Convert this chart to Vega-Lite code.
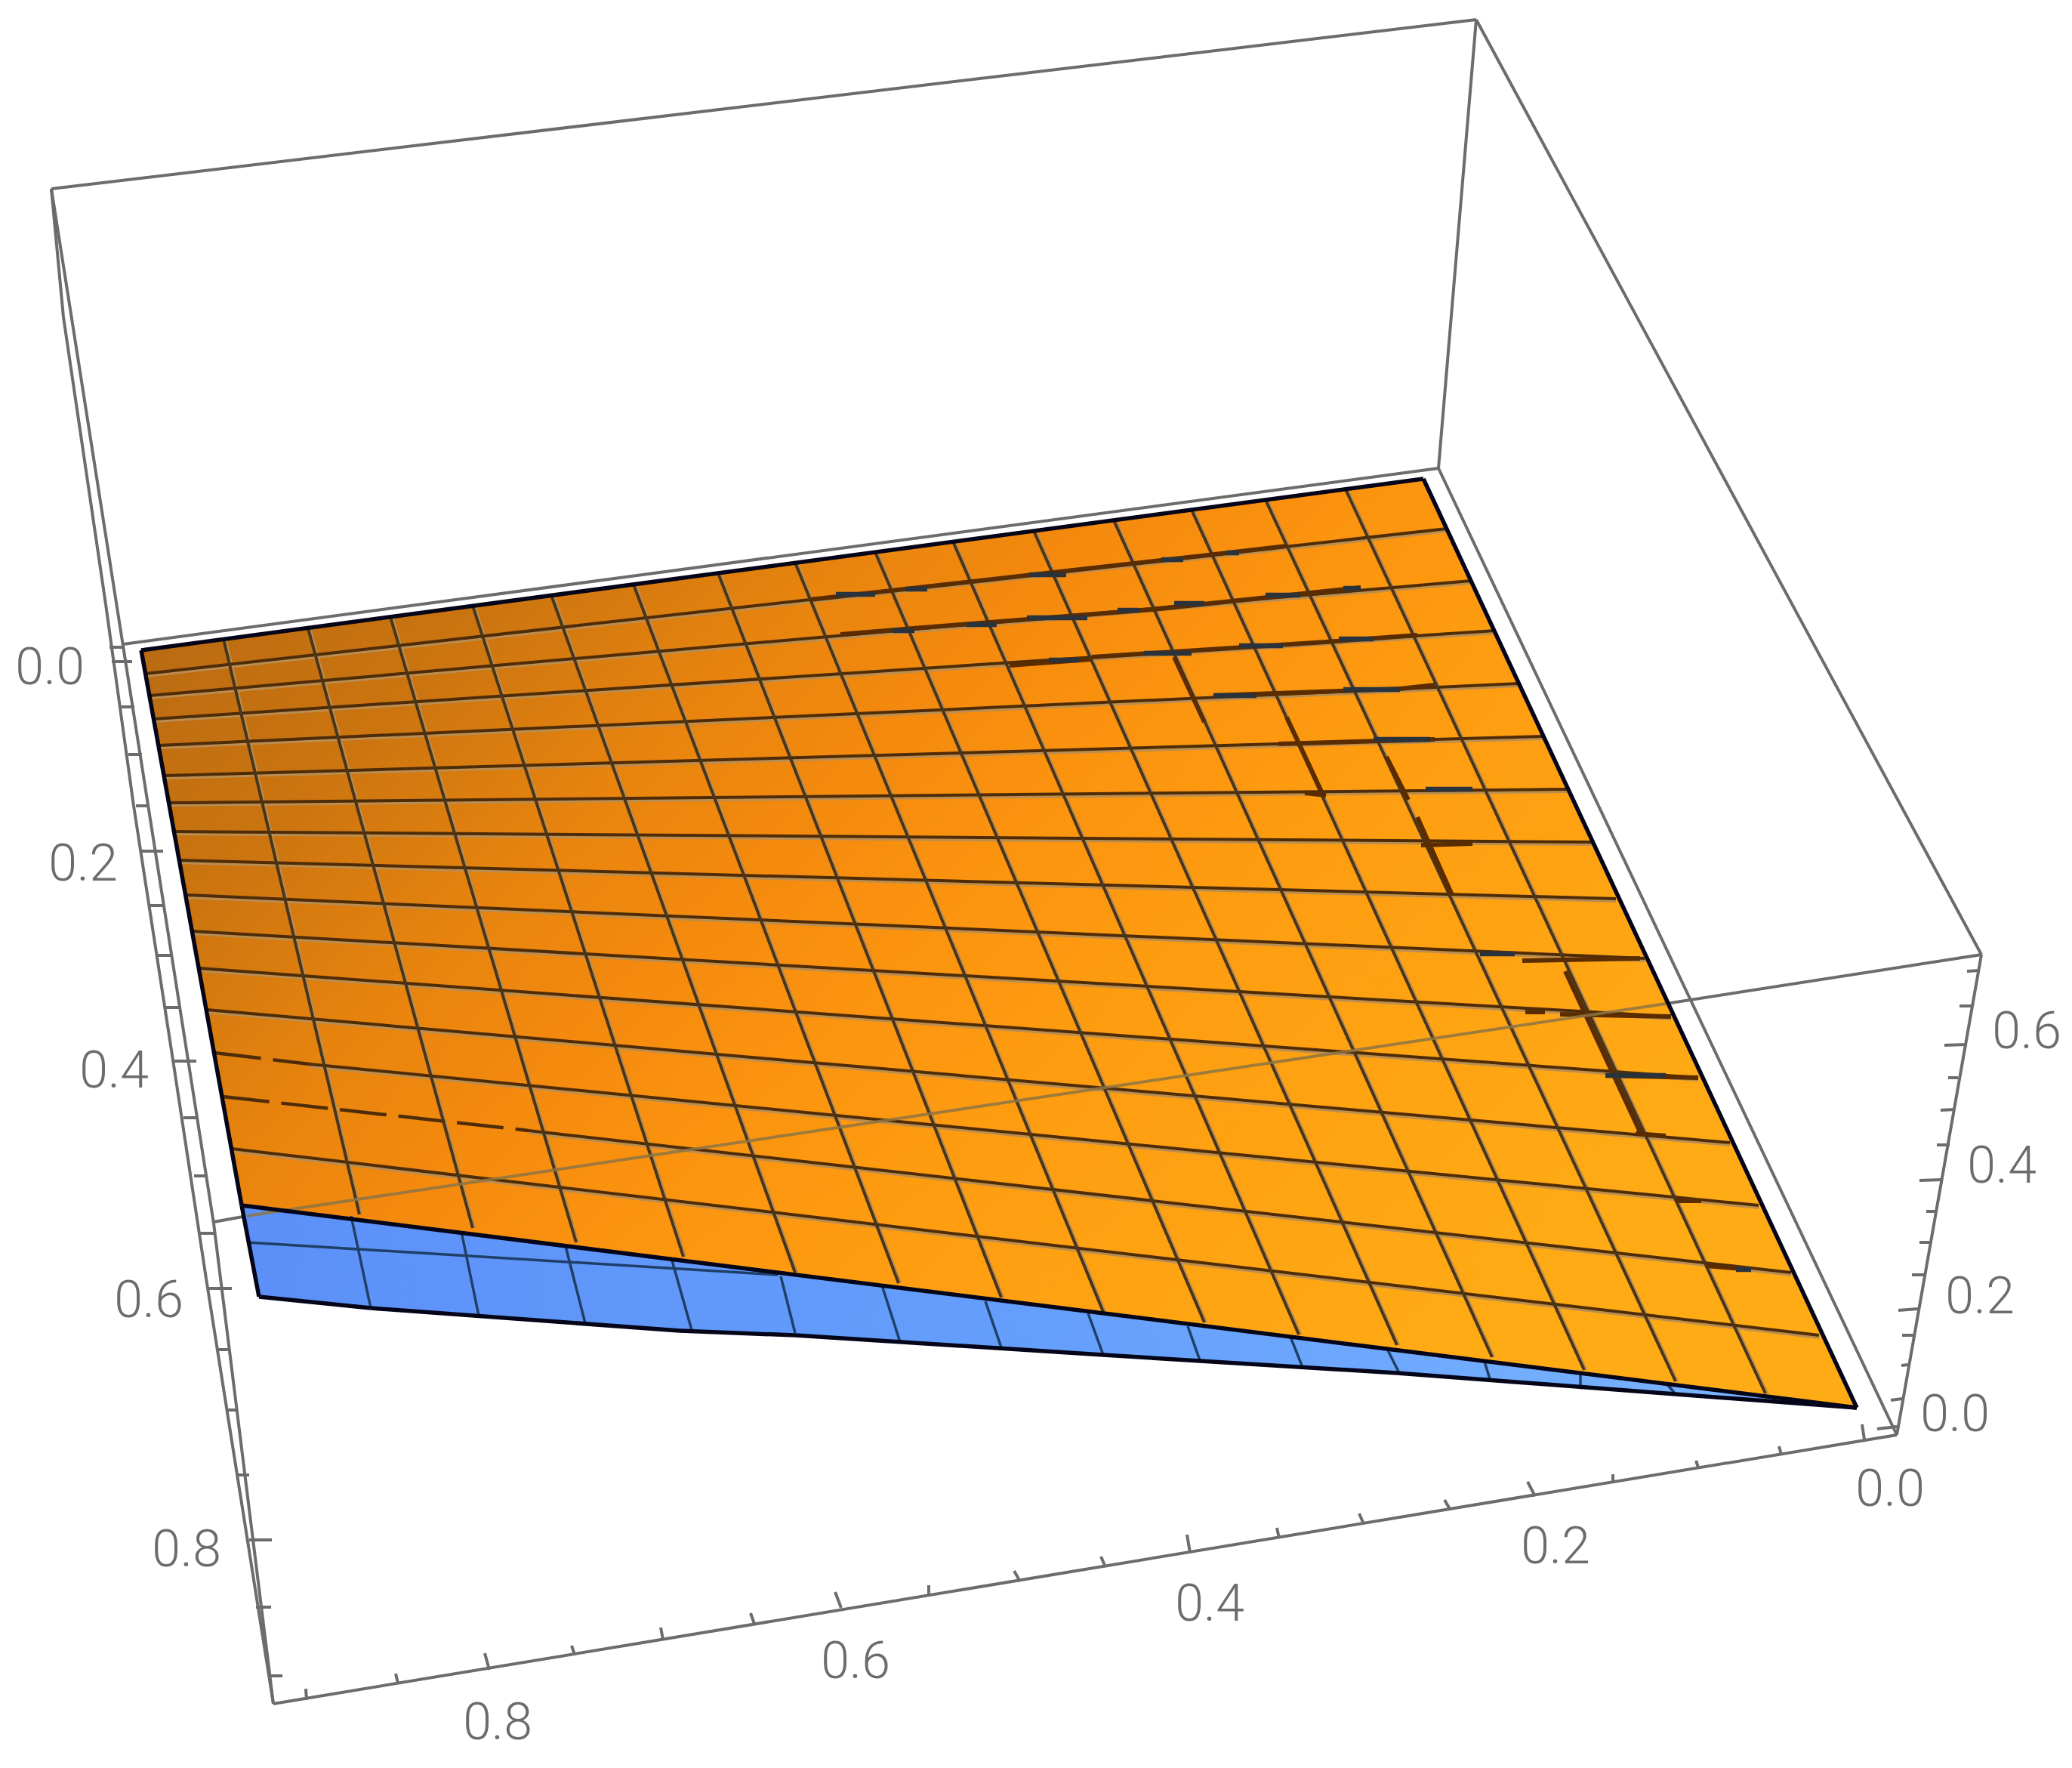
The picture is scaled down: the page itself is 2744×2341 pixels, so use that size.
{"$schema":"https://vega.github.io/schema/vega-lite/v6.json","autosize":{"type":"fit","contains":"padding"},"width":2744,"height":2341,"padding":0,"background":"white","view":{"stroke":null},
"datasets":{
"poly":[
{"part":"blue","i":0,"sx":320,"sy":1596},{"part":"blue","i":1,"sx":2459,"sy":1864},{"part":"blue","i":2,"sx":2219,"sy":1846},{"part":"blue","i":3,"sx":1850,"sy":1818},{"part":"blue","i":4,"sx":1461,"sy":1794},{"part":"blue","i":5,"sx":1053,"sy":1768},{"part":"blue","i":6,"sx":900,"sy":1762},{"part":"blue","i":7,"sx":491,"sy":1732},{"part":"blue","i":8,"sx":343,"sy":1717},{"part":"blue","i":9,"sx":320,"sy":1596},
{"part":"orange","i":0,"sx":187,"sy":861},{"part":"orange","i":1,"sx":1885,"sy":634},{"part":"orange","i":2,"sx":2459,"sy":1864},{"part":"orange","i":3,"sx":320,"sy":1596},{"part":"orange","i":4,"sx":187,"sy":861}],
"back":[
{"sx":68,"sy":250,"ex":1955,"ey":26},{"sx":1955,"sy":26,"ex":2624,"ey":1264},{"sx":1955,"sy":26,"ex":1905,"ey":620},{"sx":163,"sy":853,"ex":1905,"ey":620},{"sx":1905,"sy":620,"ex":2512,"ey":1900},{"sx":2624,"sy":1264,"ex":2512,"ey":1900},{"sx":2512,"sy":1900,"ex":362,"ey":2256},
{"sx":68,"sy":250,"ex":84,"ey":420},{"sx":84,"sy":420,"ex":140,"ey":800},{"sx":140,"sy":800,"ex":177,"ey":1067},{"sx":177,"sy":1067,"ex":230,"ey":1410},{"sx":230,"sy":1410,"ex":273,"ey":1693},{"sx":273,"sy":1693,"ex":362,"ey":2256},
{"sx":68,"sy":250,"ex":283,"ey":1620},{"sx":283,"sy":1620,"ex":362,"ey":2256},{"sx":2624,"sy":1264,"ex":2206,"ey":1329},{"sx":327,"sy":1610,"ex":283,"ey":1618},
{"sx":145,"sy":857,"ex":163,"ey":857},{"sx":148,"sy":876,"ex":175,"ey":876},{"sx":158,"sy":936,"ex":178,"ey":936},{"sx":170,"sy":999,"ex":188,"ey":999},{"sx":180,"sy":1067,"ex":197,"ey":1067},{"sx":187,"sy":1127,"ex":216,"ey":1127},{"sx":197,"sy":1199,"ex":216,"ey":1199},{"sx":207,"sy":1265,"ex":226,"ey":1265},{"sx":218,"sy":1334,"ex":237,"ey":1334},{"sx":230,"sy":1405,"ex":260,"ey":1405},{"sx":243,"sy":1480,"ex":260,"ey":1480},{"sx":257,"sy":1557,"ex":273,"ey":1557},{"sx":265,"sy":1633,"ex":283,"ey":1633},{"sx":276,"sy":1706,"ex":307,"ey":1706},{"sx":287,"sy":1787,"ex":304,"ey":1787},{"sx":300,"sy":1867,"ex":314,"ey":1867},{"sx":314,"sy":1953,"ex":330,"ey":1953},{"sx":330,"sy":2039,"ex":360,"ey":2039},{"sx":339,"sy":2128,"ex":359,"ey":2128},{"sx":356,"sy":2219,"ex":374,"ey":2219},
{"sx":2466,"sy":1886,"ex":2469,"ey":1906},{"sx":2356,"sy":1915,"ex":2359,"ey":1926},{"sx":2246,"sy":1934,"ex":2249,"ey":1943},{"sx":2136,"sy":1952,"ex":2136,"ey":1963},{"sx":2023,"sy":1962,"ex":2033,"ey":1981},{"sx":1913,"sy":1986,"ex":1920,"ey":1998},{"sx":1800,"sy":2004,"ex":1806,"ey":2018},{"sx":1691,"sy":2023,"ex":1694,"ey":2037},{"sx":1572,"sy":2032,"ex":1576,"ey":2056},{"sx":1458,"sy":2061,"ex":1464,"ey":2075},{"sx":1343,"sy":2080,"ex":1351,"ey":2094},{"sx":1230,"sy":2099,"ex":1230,"ey":2114},{"sx":1106,"sy":2108,"ex":1114,"ey":2129},{"sx":994,"sy":2136,"ex":999,"ey":2150},{"sx":875,"sy":2155,"ex":878,"ey":2171},{"sx":757,"sy":2179,"ex":761,"ey":2191},{"sx":642,"sy":2189,"ex":648,"ey":2211},{"sx":524,"sy":2216,"ex":527,"ey":2229},{"sx":405,"sy":2236,"ex":406,"ey":2251},
{"sx":2486,"sy":1892,"ex":2512,"ey":1889},{"sx":2504,"sy":1854,"ex":2519,"ey":1852},{"sx":2518,"sy":1808,"ex":2527,"ey":1807},{"sx":2519,"sy":1768,"ex":2534,"ey":1768},{"sx":2514,"sy":1735,"ex":2540,"ey":1733},{"sx":2532,"sy":1688,"ex":2549,"ey":1688},{"sx":2542,"sy":1645,"ex":2555,"ey":1645},{"sx":2551,"sy":1604,"ex":2564,"ey":1604},{"sx":2542,"sy":1563,"ex":2572,"ey":1562},{"sx":2565,"sy":1516,"ex":2582,"ey":1516},{"sx":2570,"sy":1470,"ex":2589,"ey":1469},{"sx":2580,"sy":1427,"ex":2593,"ey":1427},{"sx":2575,"sy":1384,"ex":2605,"ey":1383},{"sx":2595,"sy":1332,"ex":2613,"ey":1332},{"sx":2605,"sy":1286,"ex":2622,"ey":1285}],
"rows":[
{"sx":193,"sy":892,"ex":1916,"ey":700},{"sx":198,"sy":921,"ex":1948,"ey":769},{"sx":204,"sy":952,"ex":1980,"ey":835},{"sx":210,"sy":987,"ex":2012,"ey":905},{"sx":217,"sy":1027,"ex":2045,"ey":975},{"sx":224,"sy":1063,"ex":2077,"ey":1045},{"sx":231,"sy":1101,"ex":2110,"ey":1115},{"sx":238,"sy":1139,"ex":2140,"ey":1190},{"sx":246,"sy":1185,"ex":2178,"ey":1269},{"sx":255,"sy":1233,"ex":2213,"ey":1346},{"sx":264,"sy":1282,"ex":2249,"ey":1427},{"sx":274,"sy":1337,"ex":2291,"ey":1513},{"sx":410,"sy":1409,"ex":2329,"ey":1596},{"sx":700,"sy":1497,"ex":2372,"ey":1685},{"sx":307,"sy":1521,"ex":2409,"ey":1768}],
"dashed":[{"sx":284,"sy":1394,"ex":410,"ey":1409},{"sx":295,"sy":1452,"ex":700,"ey":1497}],
"cols":[
{"sx":296,"sy":846,"ex":476,"ey":1608},{"sx":408,"sy":832,"ex":626,"ey":1626},{"sx":517,"sy":817,"ex":763,"ey":1645},{"sx":626,"sy":802,"ex":905,"ey":1664},{"sx":730,"sy":788,"ex":1053,"ey":1685},{"sx":839,"sy":774,"ex":1190,"ey":1699},{"sx":951,"sy":759,"ex":1326,"ey":1718},{"sx":1053,"sy":745,"ex":1461,"ey":1737},{"sx":1159,"sy":731,"ex":1595,"ey":1751},{"sx":1262,"sy":717,"ex":1720,"ey":1767},{"sx":1369,"sy":703,"ex":1850,"ey":1781},{"sx":1475,"sy":689,"ex":1976,"ey":1797},{"sx":1578,"sy":675,"ex":2098,"ey":1814},{"sx":1676,"sy":662,"ex":2219,"ey":1829},{"sx":1782,"sy":648,"ex":2338,"ey":1845}],
"heavy":[
{"sx":1073,"sy":794,"ex":1600,"ey":735},{"sx":1600,"sy":735,"ex":1704,"ey":723},{"sx":1113,"sy":840,"ex":1210,"ey":832},{"sx":1210,"sy":832,"ex":1527,"ey":807},{"sx":1527,"sy":807,"ex":1802,"ey":778},{"sx":1337,"sy":881,"ex":1444,"ey":873},{"sx":1446,"sy":870,"ex":1756,"ey":850},{"sx":1756,"sy":850,"ex":1877,"ey":841},{"sx":1607,"sy":921,"ex":1854,"ey":912},{"sx":1854,"sy":912,"ex":1900,"ey":907},{"sx":1693,"sy":985,"ex":1900,"ey":979},{"sx":1728,"sy":1050,"ex":1756,"ey":1053},{"sx":1888,"sy":1045,"ex":1950,"ey":1045},{"sx":1882,"sy":1119,"ex":1950,"ey":1117},{"sx":1960,"sy":1263,"ex":2006,"ey":1263},{"sx":2016,"sy":1272,"ex":2172,"ey":1269},{"sx":2020,"sy":1340,"ex":2046,"ey":1340},{"sx":2066,"sy":1343,"ex":2213,"ey":1346},{"sx":2126,"sy":1424,"ex":2249,"ey":1427},{"sx":2166,"sy":1501,"ex":2206,"ey":1504},{"sx":2219,"sy":1590,"ex":2253,"ey":1590},{"sx":2259,"sy":1676,"ex":2319,"ey":1681},
{"sx":1555,"sy":870,"ex":1595,"ey":956},{"sx":1704,"sy":950,"ex":1750,"ey":1048},{"sx":1836,"sy":1002,"ex":1865,"ey":1059},{"sx":1877,"sy":1082,"ex":1923,"ey":1185},{"sx":2073,"sy":1286,"ex":2173,"ey":1501}],
"slate":[
{"sx":1107,"sy":787,"ex":1159,"ey":787},{"sx":1199,"sy":780,"ex":1228,"ey":780},{"sx":1363,"sy":761,"ex":1412,"ey":761},{"sx":1538,"sy":741,"ex":1567,"ey":741},{"sx":1624,"sy":732,"ex":1641,"ey":732},
{"sx":1182,"sy":835,"ex":1211,"ey":835},{"sx":1280,"sy":827,"ex":1320,"ey":827},{"sx":1360,"sy":818,"ex":1440,"ey":818},{"sx":1480,"sy":808,"ex":1509,"ey":808},{"sx":1555,"sy":799,"ex":1595,"ey":799},{"sx":1676,"sy":788,"ex":1722,"ey":788},{"sx":1779,"sy":779,"ex":1802,"ey":779},
{"sx":1389,"sy":874,"ex":1429,"ey":874},{"sx":1515,"sy":865,"ex":1578,"ey":865},{"sx":1641,"sy":855,"ex":1699,"ey":855},{"sx":1773,"sy":846,"ex":1819,"ey":846},
{"sx":1607,"sy":921,"ex":1664,"ey":921},{"sx":1779,"sy":913,"ex":1854,"ey":913},{"sx":1819,"sy":979,"ex":1894,"ey":979},{"sx":1888,"sy":1045,"ex":1950,"ey":1045},{"sx":1960,"sy":1263,"ex":2006,"ey":1263},{"sx":2126,"sy":1424,"ex":2206,"ey":1424},{"sx":2299,"sy":1681,"ex":2319,"ey":1681}],
"bluegrid":[
{"sx":327,"sy":1645,"ex":1030,"ey":1688},{"sx":465,"sy":1610,"ex":491,"ey":1732},{"sx":611,"sy":1631,"ex":634,"ey":1742},{"sx":749,"sy":1650,"ex":775,"ey":1752},{"sx":890,"sy":1669,"ex":916,"ey":1761},{"sx":1034,"sy":1690,"ex":1053,"ey":1765},{"sx":1168,"sy":1702,"ex":1192,"ey":1777},{"sx":1305,"sy":1723,"ex":1327,"ey":1787},{"sx":1441,"sy":1739,"ex":1461,"ey":1794},{"sx":1573,"sy":1756,"ex":1590,"ey":1804},{"sx":1709,"sy":1770,"ex":1724,"ey":1808},{"sx":1836,"sy":1784,"ex":1853,"ey":1818},{"sx":1966,"sy":1803,"ex":1974,"ey":1829},{"sx":2093,"sy":1817,"ex":2093,"ey":1836},{"sx":2206,"sy":1831,"ex":2219,"ey":1846}],
"edges":[
{"sx":187,"sy":861,"ex":1885,"ey":634},{"sx":187,"sy":861,"ex":320,"ey":1596},{"sx":1885,"sy":634,"ex":2459,"ey":1864},{"sx":320,"sy":1596,"ex":343,"ey":1717},{"sx":320,"sy":1596,"ex":2459,"ey":1864},{"sx":343,"sy":1717,"ex":491,"ey":1732},{"sx":491,"sy":1732,"ex":900,"ey":1762},{"sx":900,"sy":1762,"ex":1053,"ey":1768},{"sx":1053,"sy":1768,"ex":1461,"ey":1794},{"sx":1461,"sy":1794,"ex":1850,"ey":1818},{"sx":1850,"sy":1818,"ex":2219,"ey":1846},{"sx":2219,"sy":1846,"ex":2459,"ey":1864}],
"front":[{"sx":2206,"sy":1329,"ex":327,"ey":1610}],
"labels":[
{"t":"0.0","sx":66,"sy":886},{"t":"0.2","sx":110,"sy":1146},{"t":"0.4","sx":151,"sy":1420},{"t":"0.6","sx":197,"sy":1724},{"t":"0.8","sx":247,"sy":2054},
{"t":"0.0","sx":2503,"sy":1974},{"t":"0.2","sx":2060,"sy":2050},{"t":"0.4","sx":1602,"sy":2126},{"t":"0.6","sx":1133,"sy":2202},{"t":"0.8","sx":659,"sy":2283},
{"t":"0.0","sx":2589,"sy":1875},{"t":"0.2","sx":2622,"sy":1719},{"t":"0.4","sx":2651,"sy":1546},{"t":"0.6","sx":2684,"sy":1368}]
},
"encoding":{
"x":{"field":"sx","type":"quantitative","scale":{"domain":[0,2744],"nice":false,"zero":false},"axis":null},
"y":{"field":"sy","type":"quantitative","scale":{"domain":[2341,0],"nice":false,"zero":false},"axis":null}
},
"layer":[
{"data":{"name":"back"},"mark":{"type":"rule","stroke":"#6c6c6c","strokeWidth":4},"encoding":{"x2":{"field":"ex"},"y2":{"field":"ey"}}},
{"data":{"name":"poly"},"transform":[{"filter":"datum.part==='blue'"}],"mark":{"type":"line","interpolate":"linear","strokeWidth":0,"fill":{"gradient":"linear","x1":0,"y1":0,"x2":1,"y2":0,"stops":[{"offset":0,"color":"#5C90F8"},{"offset":0.5,"color":"#659FFC"},{"offset":1,"color":"#7AB6FF"}]}},"encoding":{"order":{"field":"i"}}},
{"data":{"name":"poly"},"transform":[{"filter":"datum.part==='orange'"}],"mark":{"type":"line","interpolate":"linear","strokeWidth":0,"fill":{"gradient":"linear","x1":0,"y1":0,"x2":1,"y2":0.55,"stops":[{"offset":0.05,"color":"#B66912"},{"offset":0.22,"color":"#CC7510"},{"offset":0.35,"color":"#E8840E"},{"offset":0.45,"color":"#F48A0E"},{"offset":0.55,"color":"#FB930F"},{"offset":0.67,"color":"#FE9C10"},{"offset":1,"color":"#FFAB15"}]}},"encoding":{"order":{"field":"i"}}},
{"data":{"name":"rows"},"mark":{"type":"rule","stroke":"#B88E55","strokeWidth":3,"yOffset":3.5,"y2Offset":3.5},"encoding":{"x2":{"field":"ex"},"y2":{"field":"ey"}}},
{"data":{"name":"cols"},"mark":{"type":"rule","stroke":"#B88E55","strokeWidth":2.5,"xOffset":3,"x2Offset":3},"encoding":{"x2":{"field":"ex"},"y2":{"field":"ey"}}},
{"data":{"name":"rows"},"mark":{"type":"rule","stroke":"#4F2C08","strokeWidth":4},"encoding":{"x2":{"field":"ex"},"y2":{"field":"ey"}}},
{"data":{"name":"dashed"},"mark":{"type":"rule","stroke":"#4F2C08","strokeWidth":4.5,"strokeDash":[62,16]},"encoding":{"x2":{"field":"ex"},"y2":{"field":"ey"}}},
{"data":{"name":"cols"},"mark":{"type":"rule","stroke":"#4A3518","strokeWidth":4},"encoding":{"x2":{"field":"ex"},"y2":{"field":"ey"}}},
{"data":{"name":"heavy"},"mark":{"type":"rule","stroke":"#5A2C00","strokeWidth":6},"encoding":{"x2":{"field":"ex"},"y2":{"field":"ey"}}},
{"data":{"name":"slate"},"mark":{"type":"rule","stroke":"#2A333C","strokeWidth":6.5},"encoding":{"x2":{"field":"ex"},"y2":{"field":"ey"}}},
{"data":{"name":"bluegrid"},"mark":{"type":"rule","stroke":"#1F3F68","strokeWidth":3.5},"encoding":{"x2":{"field":"ex"},"y2":{"field":"ey"}}},
{"data":{"name":"front"},"mark":{"type":"rule","stroke":"#8E7442","strokeWidth":4,"opacity":0.85},"encoding":{"x2":{"field":"ex"},"y2":{"field":"ey"}}},
{"data":{"name":"edges"},"mark":{"type":"rule","stroke":"#05051A","strokeWidth":5.5},"encoding":{"x2":{"field":"ex"},"y2":{"field":"ey"}}},
{"data":{"name":"labels"},"mark":{"type":"text","font":"Roboto","fontWeight":300,"fontSize":68,"fill":"#6c6c6c","align":"center","baseline":"middle"},"encoding":{"text":{"field":"t"}}}
]}
